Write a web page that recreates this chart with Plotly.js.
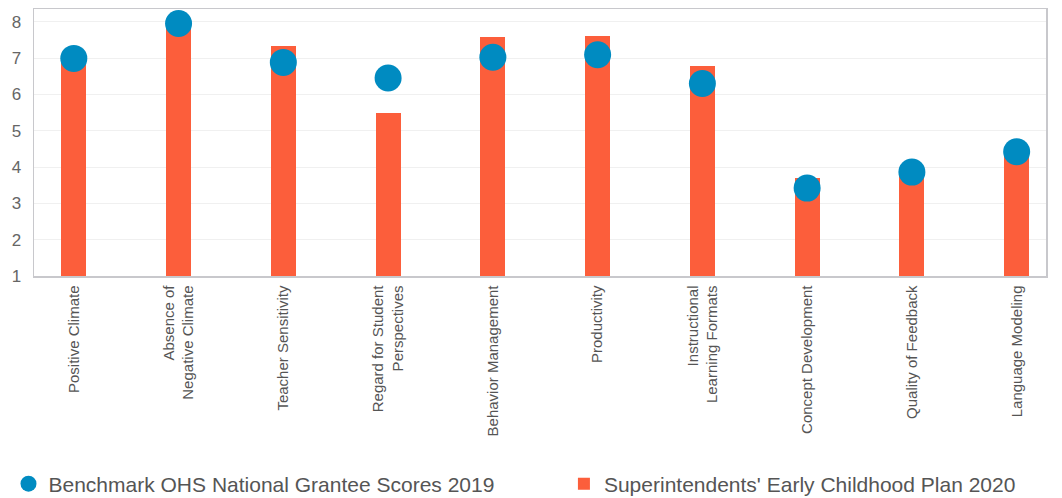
<!DOCTYPE html>
<html>
<head>
<meta charset="utf-8">
<script src="https://cdn.plot.ly/plotly-3.0.1.min.js"></script>
<style>html,body{margin:0;padding:0;background:#fff;}#chart{width:1062px;height:498px;}</style>
</head>
<body>
<div id="chart"></div>
<script>
const categories = [
  "Positive Climate",
  "Absence of<br>Negative Climate",
  "Teacher Sensitivity",
  "Regard for Student<br>Perspectives",
  "Behavior Management",
  "Productivity",
  "Instructional<br>Learning Formats",
  "Concept Development",
  "Quality of Feedback",
  "Language Modeling"
];
const benchmark2019 = [6.99, 7.95, 6.88, 6.45, 7.02, 7.09, 6.30, 3.42, 3.86, 4.42];
const plan2020 = [7.0, 7.95, 7.33, 5.5, 7.57, 7.6, 6.79, 3.70, 3.85, 4.3];
const yTicks = [1, 2, 3, 4, 5, 6, 7, 8];

const FONT = '"Liberation Sans", Arial, Helvetica, sans-serif';

const traces = [
  {
    type: 'scatter', mode: 'markers', name: 'Benchmark OHS National Grantee Scores 2019',
    x: categories, y: benchmark2019,
    marker: {color: '#008BC1', size: 27, line: {width: 0}},
    legend: 'legend'
  },
  {
    type: 'bar', name: "Superintendents' Early Childhood Plan 2020",
    x: categories, y: plan2020, width: 0.24,
    marker: {color: '#FC5E3B', line: {width: 0}},
    legend: 'legend2'
  }
];

const legendCommon = {
  orientation: 'h', xanchor: 'left', xref: 'container',
  y: 0.028, yanchor: 'middle', yref: 'container',
  font: {family: FONT, size: 21, color: '#555'},
  bgcolor: 'rgba(0,0,0,0)'
};

const layout = {
  width: 1062, height: 498,
  margin: {l: 34, r: 16, t: 9, b: 222},
  paper_bgcolor: '#fff', plot_bgcolor: '#fff',
  font: {family: FONT, color: '#555'},
  showlegend: true,
  legend: Object.assign({}, legendCommon, {x: 0.008}),
  legend2: Object.assign({}, legendCommon, {x: 0.531}),
  xaxis: {
    type: 'category', range: [-0.38, 9.28],
    tickangle: -90, tickfont: {family: FONT, size: 15, color: '#555'},
    showgrid: false, zeroline: false, ticks: '',
    showline: true, linecolor: '#c8c8cc', linewidth: 1.5, mirror: true,
    ticklabelstandoff: 2, fixedrange: true
  },
  yaxis: {
    range: [1, 8.35], tickvals: yTicks,
    tickfont: {family: FONT, size: 17, color: '#666'},
    showgrid: true, gridcolor: '#f0f0f0', gridwidth: 1, zeroline: false, ticks: '',
    showline: true, linecolor: '#c8c8cc', linewidth: 1.5, mirror: true,
    ticklabelstandoff: 8, fixedrange: true
  },
  bargap: 0
};

Plotly.newPlot('chart', traces, layout, {displayModeBar: false, staticPlot: true});
</script>
</body>
</html>
